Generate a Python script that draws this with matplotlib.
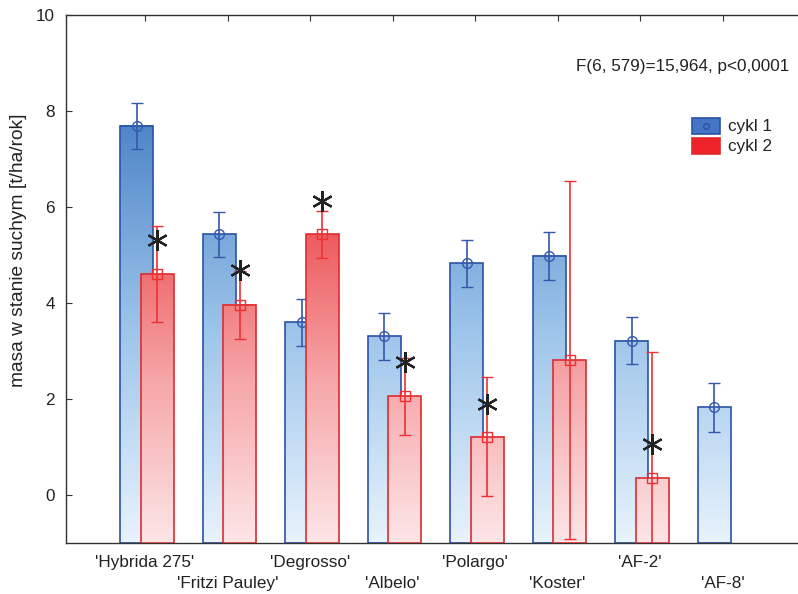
import numpy as np
import matplotlib
matplotlib.use("Agg")
import matplotlib.pyplot as plt
from matplotlib.patches import Rectangle
from matplotlib.lines import Line2D
from matplotlib.colors import LinearSegmentedColormap, Normalize

plt.rcParams['font.family'] = ['Liberation Sans', 'DejaVu Sans']

# data
labels = ["'Hybrida 275'", "'Fritzi Pauley'", "'Degrosso'", "'Albelo'",
          "'Polargo'", "'Koster'", "'AF-2'", "'AF-8'"]
cykl1 = [7.69, 5.43, 3.60, 3.31, 4.83, 4.98, 3.21, 1.83]
cykl1_err = [0.48, 0.47, 0.49, 0.49, 0.49, 0.50, 0.49, 0.51]
cykl2 = [4.60, 3.96, 5.43, 2.06, 1.21, 2.81, 0.35, None]
cykl2_err = [1.00, 0.70, 0.49, 0.80, 1.24, 3.73, 2.63, None]
stars = [5.31, 4.69, 6.12, 2.77, 1.90, None, 1.06, None]
stat_text = "F(6, 579)=15,964, p<0,0001"

W, H = 798, 594
fs = 12.3
fig = plt.figure(figsize=(W / 100, H / 100), dpi=100)
ax = fig.add_axes([66 / W, (H - 543) / H, (W - 66) / W, (543 - 15) / H])

blue_cmap = LinearSegmentedColormap.from_list("b", ["#e8f3fc", "#9cc4ea", "#4a82c6"])
red_cmap = LinearSegmentedColormap.from_list("r", ["#fde6e8", "#f6a6a8", "#ec5356"])
blue_norm = Normalize(-1, 8)
red_norm = Normalize(-1, 5.8)

bw = 0.4
x = np.arange(len(labels))


def grad_bar(xc, top, cmap, norm, edge, z):
    grad = np.linspace(-1, top, 256).reshape(-1, 1)
    ax.imshow(grad, extent=[xc - bw / 2, xc + bw / 2, -1, top], origin='lower',
              aspect='auto', cmap=cmap, norm=norm, zorder=z, interpolation='bilinear')
    ax.add_patch(Rectangle((xc - bw / 2, -1), bw, top + 1, fill=False,
                           edgecolor=edge, lw=1.2, zorder=z + 0.1))


# cykl 1 (blue)
for i, v in enumerate(cykl1):
    xc = x[i] - 0.1
    grad_bar(xc, v, blue_cmap, blue_norm, "#2b52a8", 2)
    ax.errorbar(xc, v, yerr=cykl1_err[i], fmt='o', mfc='none', mec='#3558aa',
                ms=7, mew=1.0, ecolor='#3558aa', elinewidth=1.2, capsize=4.5,
                capthick=1.2, zorder=3)

# cykl 2 (red)
for i, v in enumerate(cykl2):
    if v is None:
        continue
    xc = x[i] + 0.15
    grad_bar(xc, v, red_cmap, red_norm, "#dd2c30", 4)
    ax.errorbar(xc, v, yerr=cykl2_err[i], fmt='s', mfc='none', mec='#ee3035',
                ms=7, mew=1.0, ecolor='#ee3035', elinewidth=1.2, capsize=4.5,
                capthick=1.2, zorder=5)
    if stars[i] is not None:
        ax.plot(xc, stars[i], marker=(6, 2, 0), ms=15, mew=1.6, color='#222222',
                zorder=6)

ax.set_xlim(-0.958, 7.915)
ax.set_ylim(-1, 10)
ax.set_yticks([0, 2, 4, 6, 8, 10])
ax.set_xticks(x)
ax.set_xticklabels([])
for i, lab in enumerate(labels):
    yoff = -0.036 if i % 2 == 0 else -0.076
    ax.text(x[i], yoff, lab, transform=ax.get_xaxis_transform(), ha='center',
            va='center', fontsize=fs, color='#222222')

ax.tick_params(axis='both', direction='in', length=4, color='#333333',
               labelsize=fs, labelcolor='#222222')
ax.tick_params(axis='y', pad=8)
ax.tick_params(axis='x', top=True)
for s in ['left', 'bottom', 'top']:
    ax.spines[s].set_color('#333333')
    ax.spines[s].set_linewidth(1.0)
ax.spines['right'].set_visible(False)

ax.set_ylabel("masa w stanie suchym [t/ha/rok]", fontsize=13.8, color='#222222')
ax.yaxis.set_label_coords(-0.053, 0.555)

fig.text(789 / W, 1 - 67 / H, stat_text, ha='right', va='center', fontsize=fs,
         color='#222222')

# legend drawn by hand
fig.add_artist(Rectangle((692 / W, 1 - 134 / H), 28 / W, 16 / H,
                         transform=fig.transFigure, facecolor='#4474c4',
                         edgecolor='#2b52a8', lw=1.2))
fig.add_artist(Line2D([706 / W], [1 - 126 / H], transform=fig.transFigure,
                      marker='o', ms=4, mfc='none', mec='#2b4a98', mew=0.8))
fig.add_artist(Rectangle((692 / W, 1 - 154 / H), 28 / W, 16 / H,
                         transform=fig.transFigure, facecolor='#ee2228',
                         edgecolor='#dd2c30', lw=1.2))
fig.text(728 / W, 1 - 126 / H, "cykl 1", va='center', fontsize=fs, color='#222222')
fig.text(728 / W, 1 - 146 / H, "cykl 2", va='center', fontsize=fs, color='#222222')

fig.savefig("out.png", dpi=100)
